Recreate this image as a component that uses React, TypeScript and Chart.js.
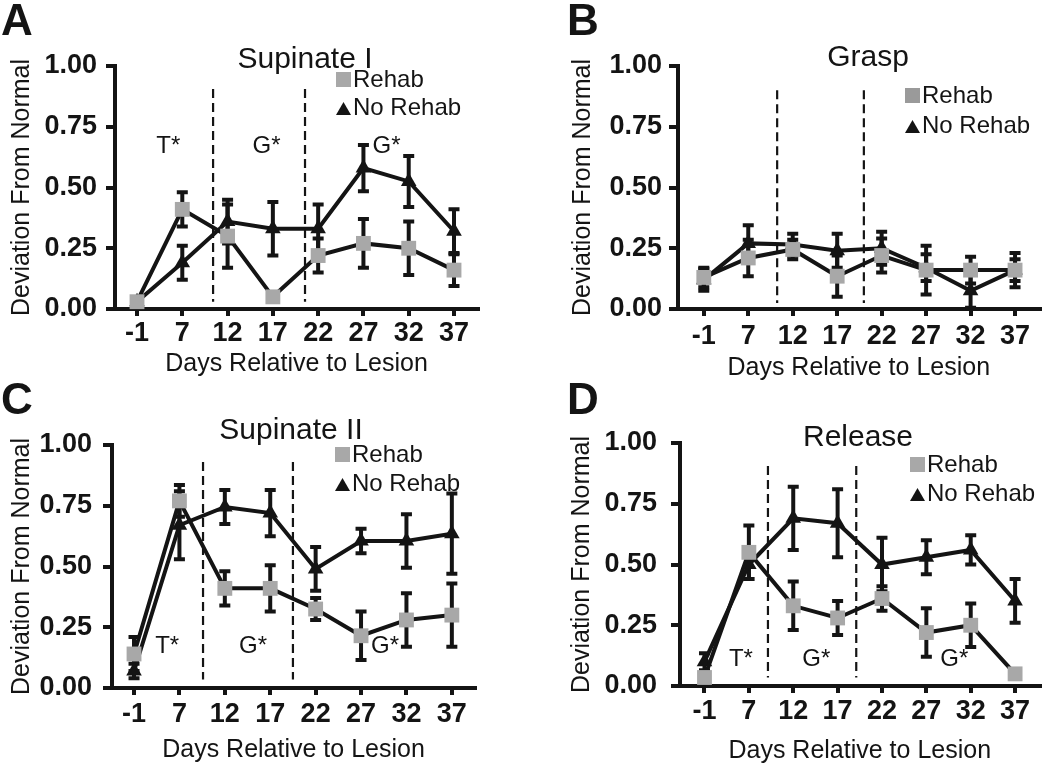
import React, { useEffect, useRef } from 'react';
import { Chart, registerables } from 'chart.js';

Chart.register(...registerables);

const FONT = '"Liberation Sans", Arimo, Arial, Helvetica, sans-serif';
const INK = '#141414';
const GRAY = '#a8a8a8';

// ---------- shared data ----------
const days = ['-1', '7', '12', '17', '22', '27', '32', '37'];
const yTickValues = [0, 0.25, 0.5, 0.75, 1];
const seriesNames = ['Rehab', 'No Rehab'];
const xTitle = 'Days Relative to Lesion';
const yTitle = 'Deviation From Normal';
const panelLetters = ['A', 'B', 'C', 'D'];
const panelTitles = ['Supinate I', 'Grasp', 'Supinate II', 'Release'];

// ---------- A: Supinate I ----------
const supinateIRehab = [0.03, 0.41, 0.30, 0.05, 0.22, 0.27, 0.25, 0.16];
const supinateIRehabErr = [0.01, 0.07, 0.13, 0.02, 0.07, 0.10, 0.11, 0.065];
const supinateINoRehab = [0.03, 0.19, 0.36, 0.33, 0.33, 0.58, 0.525, 0.32];
const supinateINoRehabErr = [0.01, 0.07, 0.09, 0.11, 0.10, 0.095, 0.105, 0.09];
const supinateIDividers = [1.68, 3.71];
const supinateINotes = ['T*', 'G*', 'G*'];
const supinateINoteAt = [0.69, 2.86, 5.51];
const supinateINoteLevel = 0.67;

// ---------- B: Grasp ----------
const graspRehab = [0.13, 0.21, 0.245, 0.135, 0.22, 0.16, 0.16, 0.16];
const graspRehabErr = [0.04, 0.075, 0.04, 0.085, 0.07, 0.10, 0.055, 0.07];
const graspNoRehab = [0.12, 0.27, 0.265, 0.24, 0.25, 0.17, 0.075, 0.16];
const graspNoRehabErr = [0.045, 0.075, 0.045, 0.07, 0.068, 0.055, 0.07, 0.045];
const graspDividers = [1.65, 3.6];
const graspNotes: string[] = [];
const graspNoteAt: number[] = [];
const graspNoteLevel = 0;

// ---------- C: Supinate II ----------
const supinateIIRehab = [0.14, 0.77, 0.41, 0.41, 0.325, 0.215, 0.28, 0.30];
const supinateIIRehabErr = [0.07, 0.065, 0.07, 0.095, 0.045, 0.10, 0.11, 0.13];
const supinateIINoRehab = [0.07, 0.67, 0.745, 0.72, 0.49, 0.605, 0.605, 0.635];
const supinateIINoRehabErr = [0.03, 0.14, 0.07, 0.095, 0.09, 0.05, 0.11, 0.165];
const supinateIIDividers = [1.52, 3.5];
const supinateIINotes = ['T*', 'G*', 'G*'];
const supinateIINoteAt = [0.73, 2.62, 5.53];
const supinateIINoteLevel = 0.17;

// ---------- D: Release ----------
const releaseRehab = [0.035, 0.55, 0.33, 0.28, 0.36, 0.22, 0.25, 0.05];
const releaseRehabErr = [0.01, 0.11, 0.10, 0.07, 0.05, 0.10, 0.09, 0.01];
const releaseNoRehab = [0.10, 0.50, 0.69, 0.67, 0.50, 0.53, 0.56, 0.35];
const releaseNoRehabErr = [0.035, 0.06, 0.13, 0.14, 0.11, 0.07, 0.06, 0.09];
const releaseDividers = [1.43, 3.42];
const releaseNotes = ['T*', 'G*', 'G*'];
const releaseNoteAt = [0.82, 2.52, 5.63];
const releaseNoteLevel = 0.11;

// ---------- layout (page pixels) ----------
const LAYOUT = [
  { ox: 0, oy: 0, h: 384, L: 115, R: 478, T: 66, B: 309, xMin: -0.486, xMax: 7.53, yTitlePad: 9.5, xTitlePad: 7.5, xTickPad: 4.5, yTickPad: 9, titleX: 305, titleY: 68, legX: 336, legY: [87, 115], letterX: 1, letterY: 35, divTop: 0.905, divBottom: 0.03 },
  { ox: 525, oy: 0, h: 384, L: 678, R: 1047, T: 66, B: 309, xMin: -0.58, xMax: 7.55, yTitlePad: 46, xTitlePad: 3.5, xTickPad: 7.5, yTickPad: 7, titleX: 868, titleY: 66, legX: 905, legY: [103, 133], letterX: 567, letterY: 35, divTop: 0.9, divBottom: 0.025 },
  { ox: 0, oy: 376, h: 392, L: 112, R: 475, T: 445, B: 688, xMin: -0.485, xMax: 7.51, yTitlePad: 9.5, xTitlePad: 5, xTickPad: 6.5, yTickPad: 11, titleX: 291, titleY: 439, legX: 335, legY: [462, 491], letterX: 1, letterY: 414, divTop: 0.93, divBottom: 0.035 },
  { ox: 525, oy: 376, h: 392, L: 680, R: 1047, T: 443, B: 686, xMin: -0.552, xMax: 7.55, yTitlePad: 44.5, xTitlePad: 4.5, xTickPad: 5, yTickPad: 14, titleX: 858, titleY: 446, legX: 910, legY: [472, 501], letterX: 567, letterY: 414, divTop: 0.905, divBottom: 0.035 },
];
const PANEL_W = 525;

const PANELS = [
  { rehab: supinateIRehab, rehabErr: supinateIRehabErr, noRehab: supinateINoRehab, noRehabErr: supinateINoRehabErr, dividers: supinateIDividers, notes: supinateINotes, noteAt: supinateINoteAt, noteLevel: supinateINoteLevel },
  { rehab: graspRehab, rehabErr: graspRehabErr, noRehab: graspNoRehab, noRehabErr: graspNoRehabErr, dividers: graspDividers, notes: graspNotes, noteAt: graspNoteAt, noteLevel: graspNoteLevel },
  { rehab: supinateIIRehab, rehabErr: supinateIIRehabErr, noRehab: supinateIINoRehab, noRehabErr: supinateIINoRehabErr, dividers: supinateIIDividers, notes: supinateIINotes, noteAt: supinateIINoteAt, noteLevel: supinateIINoteLevel },
  { rehab: releaseRehab, rehabErr: releaseRehabErr, noRehab: releaseNoRehab, noRehabErr: releaseNoRehabErr, dividers: releaseDividers, notes: releaseNotes, noteAt: releaseNoteAt, noteLevel: releaseNoteLevel },
];

function makeDecor(idx: number) {
  const p = PANELS[idx];
  const lay = LAYOUT[idx];
  const errs = [p.rehabErr, p.noRehabErr];
  return {
    id: 'decor' + idx,
    beforeDatasetsDraw(chart: any) {
      const { ctx } = chart;
      const x = chart.scales.x;
      const y = chart.scales.y;
      ctx.save();
      // dashed phase dividers
      ctx.strokeStyle = INK;
      ctx.lineWidth = 2.2;
      ctx.setLineDash([9, 5]);
      p.dividers.forEach((d) => {
        const px = x.getPixelForValue(d);
        ctx.beginPath();
        ctx.moveTo(px, y.getPixelForValue(lay.divTop));
        ctx.lineTo(px, y.getPixelForValue(lay.divBottom));
        ctx.stroke();
      });
      ctx.setLineDash([]);
      // error bars
      chart.data.datasets.forEach((ds: any, di: number) => {
        const e = errs[di];
        ds.data.forEach((pt: any, i: number) => {
          const px = x.getPixelForValue(pt.x);
          const top = y.getPixelForValue(pt.y + e[i]);
          const bot = y.getPixelForValue(Math.max(0, pt.y - e[i]));
          ctx.lineWidth = 4;
          ctx.beginPath();
          ctx.moveTo(px, top);
          ctx.lineTo(px, bot);
          ctx.stroke();
          ctx.lineWidth = 4;
          ctx.beginPath();
          ctx.moveTo(px - 5.5, top);
          ctx.lineTo(px + 5.5, top);
          ctx.moveTo(px - 5.5, bot);
          ctx.lineTo(px + 5.5, bot);
          ctx.stroke();
        });
      });
      ctx.restore();
    },
    afterDraw(chart: any) {
      const { ctx } = chart;
      const x = chart.scales.x;
      const y = chart.scales.y;
      const ox = lay.ox;
      const oy = lay.oy;
      ctx.save();
      ctx.fillStyle = INK;
      // panel letter
      ctx.font = `bold 44px ${FONT}`;
      ctx.textAlign = 'left';
      ctx.textBaseline = 'alphabetic';
      ctx.fillText(panelLetters[idx], lay.letterX - ox, lay.letterY - oy);
      // title
      ctx.font = `30px ${FONT}`;
      ctx.textAlign = 'center';
      ctx.fillText(panelTitles[idx], lay.titleX - ox, lay.titleY - oy);
      // legend
      const lx = lay.legX - ox;
      const b1 = lay.legY[0] - oy;
      const b2 = lay.legY[1] - oy;
      ctx.fillStyle = idx === 1 ? '#9a9a9a' : GRAY;
      ctx.fillRect(lx, b1 - 15, 15, 15);
      ctx.fillStyle = INK;
      ctx.beginPath();
      ctx.moveTo(lx, b2);
      ctx.lineTo(lx + 15, b2);
      ctx.lineTo(lx + 7.5, b2 - 13);
      ctx.closePath();
      ctx.fill();
      ctx.font = `24px ${FONT}`;
      ctx.textAlign = 'left';
      ctx.fillText(seriesNames[0], lx + 17, b1);
      ctx.fillText(seriesNames[1], lx + 17, b2);
      // phase notes
      ctx.textAlign = 'center';
      ctx.textBaseline = 'middle';
      p.notes.forEach((t, i) => {
        ctx.fillText(t, x.getPixelForValue(p.noteAt[i]), y.getPixelForValue(p.noteLevel));
      });
      ctx.restore();
    },
  };
}

function Panel({ idx }: { idx: number }) {
  const ref = useRef<HTMLCanvasElement>(null);
  const lay = LAYOUT[idx];
  useEffect(() => {
    const p = PANELS[idx];
    const chart = new Chart(ref.current as HTMLCanvasElement, {
      type: 'line',
      data: {
        datasets: [
          {
            label: seriesNames[0],
            data: days.map((_, i) => ({ x: i, y: p.rehab[i] })),
            borderColor: INK,
            borderWidth: 4,
            pointStyle: 'rect',
            pointRadius: 10.5,
            pointBackgroundColor: GRAY,
            pointBorderColor: GRAY,
            pointBorderWidth: 0,
            tension: 0,
            clip: false,
          },
          {
            label: seriesNames[1],
            data: days.map((_, i) => ({ x: i, y: p.noRehab[i] })),
            borderColor: INK,
            borderWidth: 4,
            pointStyle: 'triangle',
            pointRadius: 9,
            pointBackgroundColor: INK,
            pointBorderColor: INK,
            pointBorderWidth: 0,
            tension: 0,
            clip: false,
          },
        ],
      } as any,
      options: {
        responsive: false,
        animation: false,
        events: [],
        layout: {
          padding: { left: 0, right: lay.ox + PANEL_W - lay.R, top: lay.T - lay.oy, bottom: 0 },
        },
        plugins: {
          legend: { display: false },
          title: { display: false },
          tooltip: { enabled: false },
        },
        scales: {
          x: {
            type: 'linear',
            min: lay.xMin,
            max: lay.xMax,
            afterBuildTicks: (s: any) => {
              s.ticks = days.map((_, i) => ({ value: i }));
            },
            afterFit: (s: any) => {
              s.height = lay.oy + lay.h - lay.B;
            },
            ticks: {
              callback: (v: any) => days[Math.round(Number(v))],
              font: { family: FONT, size: 27, weight: 'bold', lineHeight: 1 },
              color: INK,
              padding: lay.xTickPad,
              maxRotation: 0,
              autoSkip: false,
            },
            grid: { display: true, drawOnChartArea: false, drawTicks: true, tickLength: 7, lineWidth: 4, color: INK, tickColor: INK },
            border: { display: true, width: 4, color: INK },
            title: {
              display: true,
              text: xTitle,
              font: { family: FONT, size: 25, lineHeight: 1 },
              color: INK,
              padding: { top: 0, bottom: lay.xTitlePad },
            },
          },
          y: {
            type: 'linear',
            min: 0,
            max: 1,
            afterBuildTicks: (s: any) => {
              s.ticks = yTickValues.map((v) => ({ value: v }));
            },
            afterFit: (s: any) => {
              s.width = lay.L - lay.ox;
            },
            ticks: {
              callback: (v: any) => Number(v).toFixed(2),
              font: { family: FONT, size: 27, weight: 'bold', lineHeight: 1 },
              color: INK,
              padding: lay.yTickPad,
            },
            grid: { display: true, drawOnChartArea: false, drawTicks: true, tickLength: 9, lineWidth: 4, color: INK, tickColor: INK },
            border: { display: true, width: 4, color: INK },
            title: {
              display: true,
              text: yTitle,
              font: { family: FONT, size: 25, lineHeight: 1 },
              color: INK,
              padding: { top: lay.yTitlePad, bottom: 0 },
            },
          },
        },
      } as any,
      plugins: [makeDecor(idx)],
    });
    return () => chart.destroy();
  }, [idx]);
  return (
    <div style={{ position: 'absolute', left: lay.ox, top: lay.oy, width: PANEL_W, height: lay.h }}>
      <canvas ref={ref} width={PANEL_W} height={lay.h} style={{ display: 'block' }} />
    </div>
  );
}

export default function App() {
  return (
    <div style={{ position: 'absolute', left: 0, top: 0, width: 1050, height: 768, background: '#ffffff', overflow: 'hidden' }}>
      {[0, 1, 2, 3].map((i) => (
        <Panel key={i} idx={i} />
      ))}
    </div>
  );
}
